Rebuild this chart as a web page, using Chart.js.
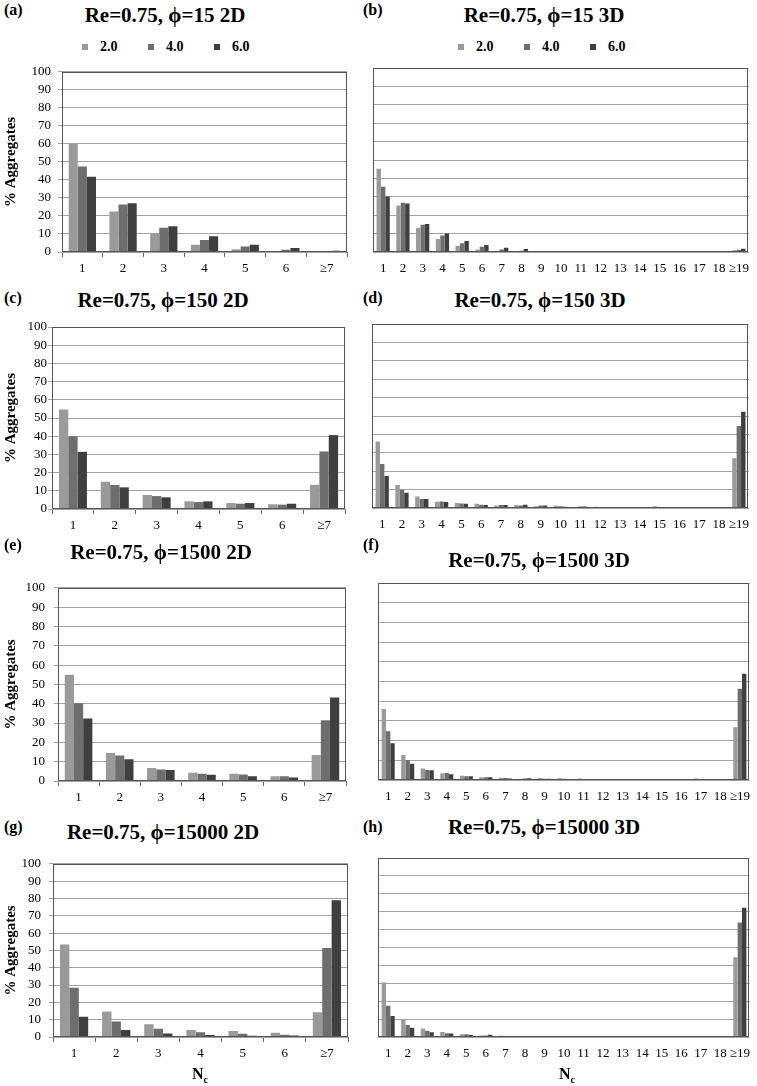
<!DOCTYPE html>
<html>
<head>
<meta charset="utf-8">
<script src="https://cdn.jsdelivr.net/npm/chart.js@4"></script>
<style>
  body { margin: 0; background: #fff; width: 757px; height: 1086px; position: relative; overflow: hidden;
         font-family: 'Liberation Serif', 'Times New Roman', serif; color: #000; }
  canvas { position: absolute; }
  .letter { position: absolute; font-weight: bold; font-size: 16px; transform: translateY(-50%); }
  .title { position: absolute; font-weight: bold; font-size: 21px; white-space: nowrap; transform: translate(-50%, -50%); }
  .xtitle { position: absolute; font-weight: bold; font-size: 16px; transform: translate(-50%, -50%); }
  .xtitle sub { font-size: 10px; }
  .legend { position: absolute; display: flex; font-weight: bold; font-size: 14px; transform: translateY(-50%); }
  .legend span.item { display: flex; align-items: center; width: 66px; }
  .legend span.sw { display: inline-block; width: 6px; height: 6px; margin-right: 12px; }
</style>
</head>
<body>
<script>
// series (legend) and categories
const seriesLabels = ['2.0', '4.0', '6.0'];
const seriesColors = ['#9a9a9a', '#6e6e6e', '#3f3f3f'];
const cats2D = ['1', '2', '3', '4', '5', '6', '≥7'];
const cats3D = ['1', '2', '3', '4', '5', '6', '7', '8', '9', '10', '11', '12', '13', '14', '15', '16', '17', '18', '≥19'];

// (a) phi=15 2D
const a2 = [60, 22.5, 10.3, 4, 1.5, 0.4, 0.1];
const a4 = [47.5, 26.4, 13.4, 6.7, 3.1, 1.3, 0.2];
const a6 = [41.7, 27, 14.3, 8.7, 4, 2.2, 0.7];
// (b) phi=15 3D
const b2 = [45.2, 25.3, 13.2, 7, 3.4, 1.4, 0.7, 0.5, 0.3, 0.2, 0.1, 0.1, 0, 0, 0, 0, 0, 0, 1.0];
const b4 = [35.4, 26.8, 14.8, 9, 4.7, 2.9, 1.4, 0.7, 0.6, 0.3, 0.2, 0.4, 0, 0, 0, 0, 0, 0, 1.2];
const b6 = [30.2, 26.4, 15.2, 10.1, 6, 3.8, 2.3, 1.6, 0.6, 0.2, 0.2, 0.2, 0, 0, 0, 0, 0, 0, 1.7];
// (c) phi=150 2D
const c2 = [54.7, 15, 7.7, 4.2, 3.3, 2.6, 13.3];
const c4 = [39.9, 13.2, 7.1, 3.8, 2.9, 2.4, 31.6];
const c6 = [31.4, 11.9, 6.4, 4.2, 3.3, 2.9, 40.6];
// (d) phi=150 3D
const d2 = [36.2, 12.5, 6.3, 3.4, 2.7, 2.3, 1.3, 1.6, 0.9, 1.2, 0.6, 0.7, 0.4, 0.5, 0.9, 0.2, 0.5, 0.5, 27.1];
const d4 = [23.9, 9.9, 4.9, 3.6, 2.5, 1.8, 1.6, 1.3, 1.3, 0.9, 0.8, 0.6, 0.6, 0.5, 0.6, 0.2, 0.5, 0.4, 44.5];
const d6 = [17.4, 8.3, 4.9, 3.3, 2.3, 1.6, 1.6, 1.8, 1.4, 0.7, 0.8, 0.6, 0.6, 0.5, 0.4, 0.6, 0.6, 0.5, 52.3];
// (e) phi=1500 2D
const e2 = [55, 14.5, 6.7, 4.3, 3.8, 2.5, 13.5];
const e4 = [40.2, 13.2, 6, 3.7, 3.3, 2.5, 31.5];
const e6 = [32.3, 11.3, 5.7, 3.2, 2.5, 1.8, 43.2];
// (f) phi=1500 3D
const f2 = [36.1, 12.7, 5.8, 3.4, 2.2, 1.4, 1.2, 0.6, 1.0, 0.9, 0.8, 0.4, 0.4, 0.5, 0.2, 0.4, 0.7, 0.2, 26.8];
const f4 = [24.7, 10.2, 5.1, 3.6, 1.9, 1.4, 1.0, 0.8, 0.6, 0.6, 0.3, 0.4, 0.4, 0.3, 0.2, 0.3, 0.2, 0.2, 46.3];
const f6 = [18.6, 8.3, 4.9, 2.9, 1.9, 1.4, 0.7, 0.9, 0.6, 0.4, 0.3, 0.4, 0.4, 0.2, 0.2, 0.2, 0.2, 0.2, 53.9];
// (g) phi=15000 2D
const g2 = [53.4, 14.7, 7.3, 4.1, 3.4, 2.4, 14.3];
const g4 = [28.5, 8.9, 4.8, 2.8, 1.9, 1.3, 51.4];
const g6 = [11.7, 4.1, 2.0, 1.1, 0.7, 0.9, 79];
// (h) phi=15000 3D
const h2 = [30.4, 9.7, 4.7, 2.8, 1.6, 0.9, 0.7, 0.3, 0.2, 0.2, 0.1, 0.1, 0.1, 0.1, 0.1, 0.1, 0.1, 0, 44.6];
const h4 = [17.5, 6.7, 3.5, 2.1, 1.5, 0.9, 0.6, 0.5, 0.3, 0.3, 0.1, 0.1, 0.1, 0.3, 0.1, 0.1, 0.2, 0, 64];
const h6 = [11.8, 5.2, 2.6, 1.9, 1.1, 1.2, 0.5, 0.3, 0.2, 0.2, 0.1, 0.1, 0.1, 0.1, 0.1, 0.1, 0.1, 0, 72.2];

const FONT = "'Liberation Serif', 'Times New Roman', serif";

// draws the box round the plot area
const frame = {
  id: 'frame',
  afterDatasetsDraw(chart) {
    const a = chart.chartArea, ctx = chart.ctx;
    ctx.save();
    ctx.strokeStyle = '#555';
    ctx.lineWidth = 1;
    ctx.strokeRect(Math.round(a.left) + 0.5, Math.round(a.top) + 0.5,
                   Math.round(a.right - a.left) - 1, Math.round(a.bottom - a.top) - 1);
    ctx.restore();
  }
};

function addDiv(cls, html, x, y) {
  const d = document.createElement('div');
  d.className = cls;
  d.innerHTML = html;
  d.style.left = x + 'px';
  d.style.top = y + 'px';
  document.body.appendChild(d);
}

function addLegend(x, y) {
  const d = document.createElement('div');
  d.className = 'legend';
  d.style.left = x + 'px';
  d.style.top = y + 'px';
  seriesLabels.forEach((s, i) => {
    d.innerHTML += '<span class="item"><span class="sw" style="background:' + seriesColors[i] + '"></span>' + s + '</span>';
  });
  document.body.appendChild(d);
}

function panel(box, labels, values, yAxis, tickPad) {
  const is2D = labels.length === 7;
  const padTop = 10, xH = 30;
  const left = yAxis ? 0 : box.L - 2;
  const top = box.T - padTop;
  const w = box.R - left + 4;
  const h = box.B - top + xH;
  const cv = document.createElement('canvas');
  cv.width = w; cv.height = h;
  cv.style.left = left + 'px'; cv.style.top = top + 'px';
  cv.style.width = w + 'px'; cv.style.height = h + 'px';
  document.body.appendChild(cv);

  new Chart(cv.getContext('2d'), {
    type: 'bar',
    data: {
      labels: labels,
      datasets: values.map((v, i) => ({
        label: seriesLabels[i],
        data: v,
        backgroundColor: seriesColors[i],
        borderWidth: 0,
        barPercentage: 1,
        categoryPercentage: 0.67
      }))
    },
    options: {
      responsive: false,
      animation: false,
      devicePixelRatio: 1,
      layout: { padding: { top: padTop, right: 4, bottom: 0, left: yAxis ? 0 : 2 } },
      plugins: { legend: { display: false }, tooltip: { enabled: false } },
      scales: {
        x: {
          offset: true,
          grid: { display: is2D, drawOnChartArea: false, drawTicks: is2D, tickLength: 5, offset: true, color: '#666' },
          border: { display: false },
          ticks: { color: '#000', font: { family: FONT, size: 13 }, padding: is2D ? 4 : 9,
                   maxRotation: 0, minRotation: 0, autoSkip: false },
          afterFit(s) { s.height = xH; }
        },
        y: {
          min: 0, max: 100,
          ticks: { display: yAxis, stepSize: 10, autoSkip: false, color: '#000',
                   font: { family: FONT, size: 13 }, padding: tickPad },
          grid: { color: '#a3a3a3', drawTicks: yAxis, tickLength: 4 },
          border: { display: false },
          title: { display: yAxis, text: '% Aggregates', color: '#000',
                   font: { family: FONT, size: 15, weight: 'bold' }, padding: { top: 2, bottom: 0 } },
          afterFit(s) { s.width = yAxis ? box.L : 0; }
        }
      }
    },
    plugins: [frame]
  });
}

panel({ L: 62, T: 67, R: 347, B: 252 }, cats2D, [a2, a4, a6], true, 7);
panel({ L: 373, T: 68, R: 754, B: 252 }, cats3D, [b2, b4, b6], false, 0);
panel({ L: 52, T: 327, R: 345, B: 509 }, cats2D, [c2, c4, c6], true, 1);
panel({ L: 372, T: 324, R: 754, B: 508 }, cats3D, [d2, d4, d6], false, 0);
panel({ L: 58, T: 581, R: 346, B: 781 }, cats2D, [e2, e4, e6], true, 9);
panel({ L: 378, T: 583, R: 755, B: 780 }, cats3D, [f2, f4, f6], false, 0);
panel({ L: 53, T: 858, R: 348, B: 1037 }, cats2D, [g2, g4, g6], true, 8);
panel({ L: 378, T: 858, R: 755, B: 1037 }, cats3D, [h2, h4, h6], false, 0);

addDiv('letter', '(a)', 4, 10);
addDiv('letter', '(b)', 363, 10);
addDiv('letter', '(c)', 4, 298);
addDiv('letter', '(d)', 363, 298);
addDiv('letter', '(e)', 4, 545);
addDiv('letter', '(f)', 363, 545);
addDiv('letter', '(g)', 4, 827);
addDiv('letter', '(h)', 363, 827);

addDiv('title', 'Re=0.75, ϕ=15 2D', 165, 15);
addDiv('title', 'Re=0.75, ϕ=15 3D', 544, 15);
addDiv('title', 'Re=0.75, ϕ=150 2D', 163, 300);
addDiv('title', 'Re=0.75, ϕ=150 3D', 540, 300);
addDiv('title', 'Re=0.75, ϕ=1500 2D', 161, 552);
addDiv('title', 'Re=0.75, ϕ=1500 3D', 539, 560);
addDiv('title', 'Re=0.75, ϕ=15000 2D', 163, 832);
addDiv('title', 'Re=0.75, ϕ=15000 3D', 544, 827);

addLegend(82, 47);
addLegend(458, 47);

addDiv('xtitle', 'N<sub>c</sub>', 200, 1075);
addDiv('xtitle', 'N<sub>c</sub>', 567, 1075);
</script>
</body>
</html>
